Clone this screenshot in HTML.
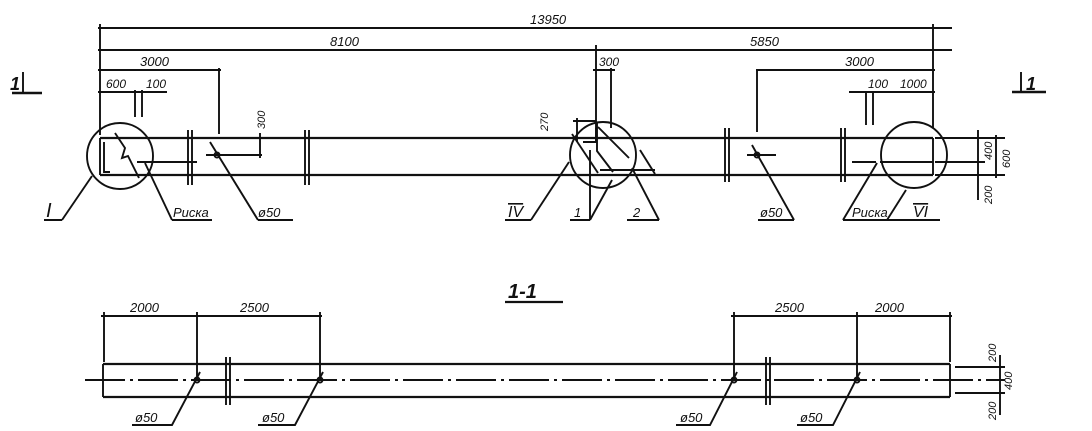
<!DOCTYPE html>
<html><head><meta charset="utf-8"><style>
html,body{margin:0;padding:0;background:#fff;}
svg{display:block}
text{font-family:"Liberation Sans",sans-serif;font-style:italic;fill:#111;}
</style></head><body>
<svg width="1092" height="431" viewBox="0 0 1092 431" xmlns="http://www.w3.org/2000/svg">
<g stroke="#111" stroke-width="1.9" fill="none">
<line x1="98" y1="28" x2="952" y2="28"/>
<line x1="98" y1="50" x2="952" y2="50"/>
<line x1="98" y1="70" x2="221" y2="70"/>
<line x1="98" y1="92" x2="167" y2="92"/>
<line x1="100" y1="24" x2="100" y2="135"/>
<line x1="933" y1="24" x2="933" y2="128"/>
<line x1="596" y1="45" x2="596" y2="142"/>
<line x1="611" y1="68" x2="611" y2="128"/>
<line x1="593" y1="70" x2="615" y2="70"/>
<line x1="219" y1="68" x2="219" y2="134"/>
<line x1="135" y1="90" x2="135" y2="117"/>
<line x1="142" y1="90" x2="142" y2="117"/>
<line x1="756" y1="70" x2="935" y2="70"/>
<line x1="757" y1="70" x2="757" y2="132"/>
<line x1="849" y1="92" x2="935" y2="92"/>
<line x1="866" y1="92" x2="866" y2="125"/>
<line x1="873" y1="92" x2="873" y2="125"/>
<line x1="12" y1="93" x2="42" y2="93" stroke-width="2.5"/>
<line x1="23" y1="72" x2="23" y2="92"/>
<line x1="1012" y1="92" x2="1046" y2="92" stroke-width="2.5"/>
<line x1="1021" y1="72" x2="1021" y2="92"/>
<line x1="100" y1="138" x2="933" y2="138" stroke-width="2.2"/>
<line x1="100" y1="175" x2="933" y2="175" stroke-width="2.2"/>
<line x1="100" y1="138" x2="100" y2="175"/>
<line x1="933" y1="138" x2="933" y2="175"/>
<line x1="880" y1="162" x2="933" y2="162"/>
<line x1="935" y1="162" x2="985" y2="162"/>
<line x1="935" y1="138" x2="1005" y2="138"/>
<line x1="935" y1="175" x2="1005" y2="175"/>
<line x1="978" y1="130" x2="978" y2="200"/>
<line x1="996" y1="135" x2="996" y2="178"/>
<line x1="188" y1="130" x2="188" y2="185"/><line x1="192" y1="130" x2="192" y2="185"/>
<line x1="305" y1="130" x2="305" y2="185"/><line x1="309" y1="130" x2="309" y2="185"/>
<line x1="725" y1="128" x2="725" y2="182"/><line x1="729" y1="128" x2="729" y2="182"/>
<line x1="841" y1="128" x2="841" y2="182"/><line x1="845" y1="128" x2="845" y2="182"/>
<circle cx="120" cy="156" r="33"/>
<circle cx="603" cy="155" r="33"/>
<circle cx="914" cy="155" r="33"/>
<polyline points="104,142 104,172 110,172"/>
<polyline points="115,133 125,148 122,158 128,156 139,178"/>
<line x1="137" y1="162" x2="197" y2="162"/>
<line x1="206" y1="155" x2="262" y2="155"/>
<line x1="260" y1="133" x2="260" y2="158"/>
<circle cx="217" cy="155" r="2.5"/>
<line x1="210" y1="142" x2="258" y2="220"/>
<line x1="258" y1="220" x2="293" y2="220"/>
<polyline points="596,128 596,142 583,142"/>
<line x1="573" y1="121" x2="596" y2="121"/>
<line x1="577" y1="118" x2="577" y2="142"/>
<polyline points="597,123 597,151 613,172"/>
<line x1="598" y1="127" x2="629" y2="158"/>
<line x1="572" y1="134" x2="598" y2="173"/>
<line x1="600" y1="170" x2="655" y2="170"/>
<line x1="640" y1="150" x2="655" y2="174"/>
<line x1="590" y1="150" x2="590" y2="220"/>
<line x1="569" y1="162" x2="531" y2="220"/><line x1="505" y1="220" x2="531" y2="220"/>
<line x1="612" y1="180" x2="590" y2="220"/><line x1="570" y1="220" x2="590" y2="220"/>
<line x1="632" y1="168" x2="659" y2="220"/><line x1="627" y1="220" x2="659" y2="220"/>
<line x1="747" y1="155" x2="776" y2="155"/>
<circle cx="757" cy="155" r="2.5"/>
<line x1="752" y1="145" x2="794" y2="220"/><line x1="758" y1="220" x2="794" y2="220"/>
<line x1="852" y1="162" x2="876" y2="162"/>
<line x1="877" y1="163" x2="843" y2="220"/><line x1="843" y1="220" x2="896" y2="220"/>
<line x1="906" y1="190" x2="887" y2="220"/><line x1="887" y1="220" x2="940" y2="220"/>
<line x1="92" y1="176" x2="62" y2="220"/><line x1="44" y1="220" x2="62" y2="220"/>
<line x1="145" y1="163" x2="172" y2="220"/><line x1="172" y1="220" x2="212" y2="220"/>
<line x1="505" y1="302" x2="563" y2="302" stroke-width="2.2"/>
<line x1="103" y1="364" x2="950" y2="364" stroke-width="2.2"/>
<line x1="103" y1="397" x2="950" y2="397" stroke-width="2.2"/>
<line x1="103" y1="364" x2="103" y2="397"/>
<line x1="950" y1="364" x2="950" y2="397"/>
<line x1="85" y1="380" x2="1005" y2="380" stroke-dasharray="40 5 3 5"/>
<line x1="955" y1="367" x2="1005" y2="367"/>
<line x1="955" y1="393" x2="1005" y2="393"/>
<line x1="1000" y1="355" x2="1000" y2="415"/>
<line x1="101" y1="316" x2="322" y2="316"/>
<line x1="731" y1="316" x2="952" y2="316"/>
<line x1="104" y1="312" x2="104" y2="362"/>
<line x1="197" y1="312" x2="197" y2="380"/>
<line x1="320" y1="312" x2="320" y2="380"/>
<line x1="734" y1="312" x2="734" y2="380"/>
<line x1="857" y1="312" x2="857" y2="380"/>
<line x1="950" y1="312" x2="950" y2="362"/>
<line x1="226" y1="357" x2="226" y2="405"/><line x1="230" y1="357" x2="230" y2="405"/>
<line x1="766" y1="357" x2="766" y2="405"/><line x1="770" y1="357" x2="770" y2="405"/>
<circle cx="197" cy="380" r="2.5"/><circle cx="320" cy="380" r="2.5"/>
<circle cx="734" cy="380" r="2.5"/><circle cx="857" cy="380" r="2.5"/>
<polyline points="200,372 172,425 132,425"/>
<polyline points="323,372 295,425 258,425"/>
<polyline points="737,372 710,425 676,425"/>
<polyline points="860,372 833,425 797,425"/>
</g>
<g font-size="13">
<text x="530" y="24">13950</text>
<text x="330" y="46">8100</text>
<text x="750" y="46">5850</text>
<text x="140" y="66">3000</text>
<text x="845" y="66">3000</text>
<text x="106" y="88" font-size="12">600</text>
<text x="146" y="88" font-size="12">100</text>
<text x="868" y="88" font-size="12">100</text>
<text x="900" y="88" font-size="12">1000</text>
<text x="599" y="66" font-size="12">300</text>
<text x="265" y="129" font-size="11" transform="rotate(-90 265 129)">300</text>
<text x="548" y="131" font-size="11" transform="rotate(-90 548 131)">270</text>
<text x="992" y="160" font-size="11" transform="rotate(-90 992 160)">400</text>
<text x="1010" y="168" font-size="11" transform="rotate(-90 1010 168)">600</text>
<text x="992" y="204" font-size="11" transform="rotate(-90 992 204)">200</text>
<text x="173" y="217">Риска</text>
<text x="852" y="217">Риска</text>
<text x="258" y="217">ø50</text>
<text x="760" y="217">ø50</text>
<text x="46" y="217" font-style="normal" font-size="20" font-family="Liberation Serif">I</text>
<text x="508" y="217" font-style="normal" font-size="16" font-family="Liberation Serif" text-decoration="overline">IV</text>
<text x="913" y="217" font-style="normal" font-size="16" font-family="Liberation Serif" text-decoration="overline">VI</text>
<text x="574" y="217">1</text>
<text x="633" y="217">2</text>
<text x="10" y="90" font-size="18" font-weight="bold">1</text>
<text x="1026" y="90" font-size="18" font-weight="bold">1</text>
<text x="508" y="298" font-size="20" font-weight="bold">1-1</text>
<text x="130" y="312">2000</text>
<text x="240" y="312">2500</text>
<text x="775" y="312">2500</text>
<text x="875" y="312">2000</text>
<text x="135" y="422">ø50</text>
<text x="262" y="422">ø50</text>
<text x="680" y="422">ø50</text>
<text x="800" y="422">ø50</text>
<text x="996" y="362" font-size="11" transform="rotate(-90 996 362)">200</text>
<text x="1012" y="390" font-size="11" transform="rotate(-90 1012 390)">400</text>
<text x="996" y="420" font-size="11" transform="rotate(-90 996 420)">200</text>
</g>
</svg>
</body></html>
